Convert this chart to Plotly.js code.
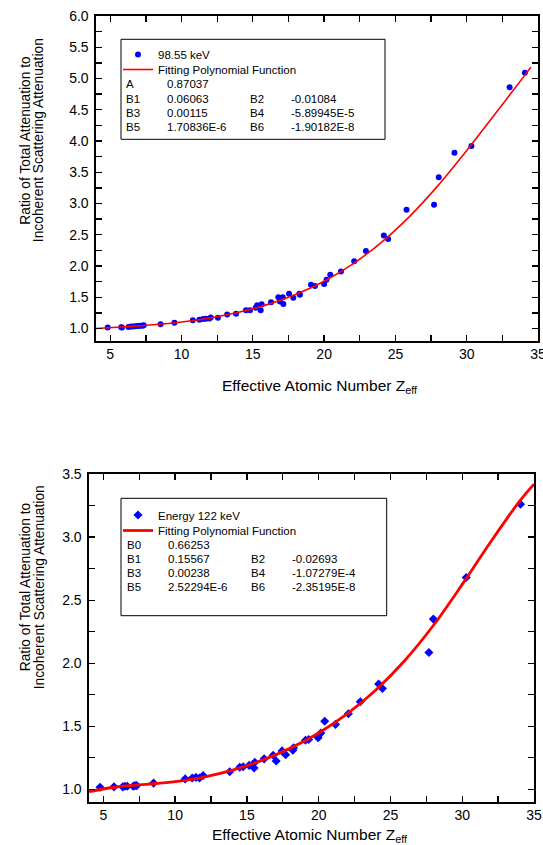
<!DOCTYPE html>
<html>
<head>
<meta charset="utf-8">
<script src="https://cdn.plot.ly/plotly-3.0.1.min.js"></script>
<style>html,body{margin:0;padding:0;background:#fff}#chart{width:543px;height:845px}</style>
</head>
<body>
<div id="chart"></div>
<script>
// ---------- Data: top chart (98.55 keV) ----------
const topZeff = [4.82, 5.77, 5.82, 6.28, 6.45, 6.62, 6.78, 6.95, 7.1, 7.25, 7.35, 8.53, 9.5, 10.79, 11.25, 11.5, 11.7, 11.95, 12.05, 12.55, 13.2, 13.82, 14.52, 14.8, 15.2, 15.3, 15.55, 15.62, 16.28, 16.79, 16.9, 17.1, 17.14, 17.54, 17.84, 18.26, 18.3, 19.08, 19.36, 20.0, 20.17, 20.43, 21.18, 22.11, 22.93, 24.19, 24.49, 25.78, 27.71, 28.04, 29.14, 30.33, 33.01, 34.08];
const topRatio = [1.015, 1.02, 1.015, 1.025, 1.03, 1.03, 1.035, 1.04, 1.045, 1.045, 1.05, 1.067, 1.09, 1.13, 1.14, 1.15, 1.155, 1.16, 1.175, 1.17, 1.225, 1.237, 1.29, 1.29, 1.33, 1.37, 1.29, 1.387, 1.42, 1.50, 1.43, 1.50, 1.39, 1.555, 1.49, 1.555, 1.54, 1.70, 1.68, 1.71, 1.78, 1.86, 1.91, 2.075, 2.24, 2.486, 2.43, 2.90, 2.98, 3.42, 3.81, 3.92, 4.86, 5.09];
const topFitZeff = [4, 6, 8, 10, 12, 14, 16, 18, 20, 22, 24, 26, 28, 30, 32, 34, 34.5];
const topFitRatio = [1.000, 1.028, 1.060, 1.105, 1.169, 1.259, 1.382, 1.545, 1.757, 2.031, 2.375, 2.795, 3.290, 3.847, 4.435, 5.03, 5.18];
const topSeriesName = "98.55 keV";
const topCoefNames = ["A", "B1", "B2", "B3", "B4", "B5", "B6"];
const topCoefValues = ["0.87037", "0.06063", "-0.01084", "0.00115", "-5.89945E-5", "1.70836E-6", "-1.90182E-8"];

// ---------- Data: bottom chart (122 keV) ----------
const botZeff = [4.77, 5.74, 6.35, 6.5, 6.67, 7.08, 7.2, 7.32, 8.5, 10.7, 11.19, 11.45, 11.7, 11.95, 13.8, 14.5, 14.74, 15.15, 15.5, 15.55, 16.2, 16.83, 17.04, 17.45, 17.7, 18.2, 18.25, 19.08, 19.3, 19.96, 20.15, 20.42, 21.17, 22.07, 22.9, 24.18, 24.44, 27.68, 27.99, 30.28, 34.06];
const botRatio = [1.017, 1.02, 1.02, 1.025, 1.025, 1.025, 1.03, 1.03, 1.05, 1.083, 1.09, 1.095, 1.09, 1.11, 1.14, 1.176, 1.18, 1.19, 1.17, 1.215, 1.242, 1.27, 1.225, 1.305, 1.275, 1.31, 1.33, 1.39, 1.395, 1.41, 1.446, 1.54, 1.515, 1.60, 1.695, 1.835, 1.80, 2.085, 2.35, 2.68, 3.26];
const botFitZeff = [4, 6, 8, 10, 12, 14, 16, 18, 20, 22, 24, 26, 28, 30, 32, 34, 35];
const botFitRatio = [0.982, 1.021, 1.040, 1.062, 1.098, 1.153, 1.228, 1.325, 1.447, 1.600, 1.790, 2.022, 2.301, 2.625, 2.965, 3.285, 3.42];
const botSeriesName = "Energy 122 keV";
const botCoefNames = ["B0", "B1", "B2", "B3", "B4", "B5", "B6"];
const botCoefValues = ["0.66253", "0.15567", "-0.02693", "0.00238", "-1.07279E-4", "2.52294E-6", "-2.35195E-8"];

const fitName = "Fitting Polynomial Function";
const xTickVals = [5, 10, 15, 20, 25, 30, 35];

// ---------- Layout helpers ----------
const W = 543, H = 845;
const px = v => v / W;
const py = v => 1 - v / H;
const FONT = "Liberation Sans, Arial, sans-serif";

function axisBase(extra) {
  return Object.assign({
    showline: true, linecolor: "#000", linewidth: 1.6, mirror: "ticks",
    ticks: "inside", ticklen: 6, tickwidth: 1.3, tickcolor: "#000",
    showgrid: false, zeroline: false, ticklabeloverflow: "allow",
    tickfont: {family: FONT, size: 14, color: "#000"},
    fixedrange: true
  }, extra);
}

const traces = [
  {x: topZeff, y: topRatio, type: "scatter", mode: "markers", name: topSeriesName,
   marker: {symbol: "circle", size: 6, color: "#0000ff"}, xaxis: "x", yaxis: "y", legend: "legend"},
  {x: topFitZeff, y: topFitRatio, type: "scatter", mode: "lines", name: fitName,
   line: {color: "#ff0000", width: 1.6, shape: "spline", smoothing: 1}, xaxis: "x", yaxis: "y", legend: "legend3"},
  {x: botZeff, y: botRatio, type: "scatter", mode: "markers", name: botSeriesName,
   marker: {symbol: "diamond", size: 7, color: "#0000ff"}, xaxis: "x2", yaxis: "y2", legend: "legend2"},
  {x: botFitZeff, y: botFitRatio, type: "scatter", mode: "lines", name: fitName,
   line: {color: "#ff0000", width: 2.8, shape: "spline", smoothing: 1}, xaxis: "x2", yaxis: "y2", legend: "legend4"}
];

const annotations = [];
const ann = (text, x, y, opts) => annotations.push(Object.assign({
  text: text, x: px(x), y: py(y), xref: "paper", yref: "paper", showarrow: false,
  font: {family: FONT, size: 11.5, color: "#000"}, xanchor: "left", yanchor: "middle"
}, opts || {}));

function coefTable(names, values, colX, rowY) {
  ann(names[0], colX[0], rowY[0]);
  ann(values[0], colX[1], rowY[0]);
  for (let r = 1; r < 4; r++) {
    const i = 2 * r - 1;
    ann(names[i], colX[0], rowY[r]);
    ann(values[i], colX[1], rowY[r]);
    ann(names[i + 1], colX[2], rowY[r]);
    ann(values[i + 1], colX[3], rowY[r]);
  }
}
coefTable(topCoefNames, topCoefValues, [124, 165, 248, 289], [84, 98.5, 112.7, 127]);
coefTable(botCoefNames, botCoefValues, [125, 166, 249, 290], [544.7, 558.7, 572.7, 587]);

const yTitle1 = "Ratio of Total Attenuation to";
const yTitle2 = "Incoherent Scattering Attenuation";
const xTitle = "Effective Atomic Number Z<sub>eff</sub>";
const titleFont = {family: FONT, size: 13.8, color: "#000"};
ann(yTitle1, 25.7, 140, {textangle: -90, xanchor: "center", font: titleFont});
ann(yTitle2, 39.2, 140, {textangle: -90, xanchor: "center", font: titleFont});
ann(yTitle1, 25.3, 587, {textangle: -90, xanchor: "center", font: titleFont});
ann(yTitle2, 39.3, 587, {textangle: -90, xanchor: "center", font: titleFont});
ann(xTitle, 320, 386, {xanchor: "center", font: {family: FONT, size: 15.5, color: "#000"}});
ann(xTitle, 310, 835, {xanchor: "center", font: {family: FONT, size: 15.5, color: "#000"}});

function legendAt(xPix, yTopPix) {
  return {x: px(xPix), y: py(yTopPix), xanchor: "left", yanchor: "top", bgcolor: "rgba(0,0,0,0)",
    borderwidth: 0, font: {family: FONT, size: 11.5, color: "#000"}, tracegroupgap: 0, itemwidth: 30};
}

const layout = {
  width: W, height: H,
  margin: {l: 0, r: 0, t: 0, b: 0},
  paper_bgcolor: "#fff", plot_bgcolor: "#fff",
  font: {family: FONT, color: "#000"},
  xaxis: axisBase({domain: [px(96), px(538)], range: [4, 35], tickvals: xTickVals, anchor: "y",
    minor: {dtick: 2.5, tick0: 0, ticks: "inside", ticklen: 6, tickwidth: 1.3, tickcolor: "#000"}}),
  yaxis: axisBase({domain: [py(341), py(16)], range: [0.8, 6.0], dtick: 0.5, tick0: 0, tickformat: ".1f", anchor: "x",
    ticklabelstandoff: 3,
    minor: {dtick: 0.25, tick0: 0, ticks: "inside", ticklen: 6, tickwidth: 1.3, tickcolor: "#000"}}),
  xaxis2: axisBase({domain: [px(89), px(534)], range: [4, 35], tickvals: xTickVals, anchor: "y2",
    minor: {dtick: 2.5, tick0: 0, ticks: "inside", ticklen: 6, tickwidth: 1.3, tickcolor: "#000"}}),
  yaxis2: axisBase({domain: [py(802), py(474)], range: [0.9, 3.5], dtick: 0.5, tick0: 0, tickformat: ".1f", anchor: "x2",
    ticklabelstandoff: 3,
    minor: {dtick: 0.25, tick0: 0, ticks: "inside", ticklen: 6, tickwidth: 1.3, tickcolor: "#000"}}),
  legend: legendAt(118, 40),
  legend3: legendAt(118, 55),
  legend2: legendAt(118, 500.5),
  legend4: legendAt(118, 516),
  showlegend: true,
  shapes: [
    {type: "rect", xref: "paper", yref: "paper", x0: px(121), x1: px(385), y0: py(139.3), y1: py(39.3),
     line: {color: "#000", width: 1}, fillcolor: "rgba(0,0,0,0)"},
    {type: "rect", xref: "paper", yref: "paper", x0: px(121), x1: px(386.7), y0: py(615.7), y1: py(498.3),
     line: {color: "#000", width: 1}, fillcolor: "rgba(0,0,0,0)"}
  ],
  annotations: annotations
};

Plotly.newPlot("chart", traces, layout, {displayModeBar: false, staticPlot: true});
</script>
</body>
</html>
